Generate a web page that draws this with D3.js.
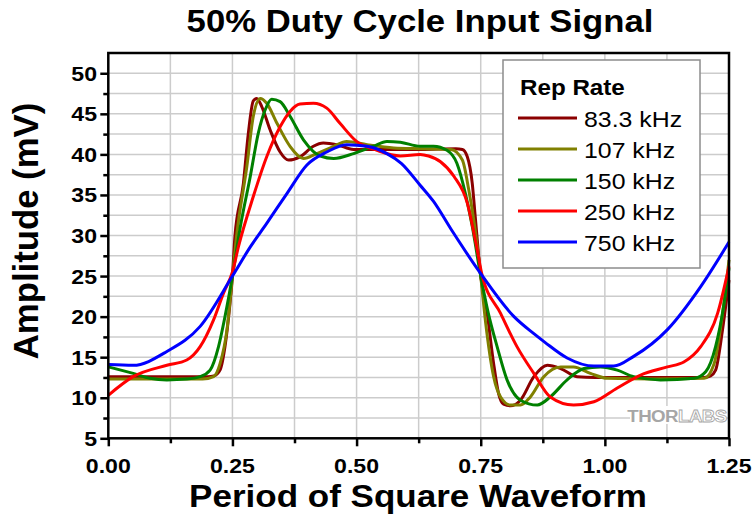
<!DOCTYPE html>
<html>
<head>
<meta charset="utf-8">
<script src="https://cdn.jsdelivr.net/npm/d3@7"></script>
<style>
  body { margin: 0; background: #fff; }
  svg text { font-family: "Liberation Sans", Arial, sans-serif; }
</style>
</head>
<body>
<svg id="chart" width="754" height="518"></svg>
<script>
// axis ticks
var xTicks = [0, 0.25, 0.5, 0.75, 1.0, 1.25];
var xMinor = [0.125, 0.375, 0.625, 0.875, 1.125];
var yTicks = [5, 10, 15, 20, 25, 30, 35, 40, 45, 50];
var yMinor = [7.5, 12.5, 17.5, 22.5, 27.5, 32.5, 37.5, 42.5, 47.5];

// series: [period, mV]
var seriesNames = ["83.3 kHz", "107 kHz", "150 kHz", "250 kHz", "750 kHz"];
var seriesColors = ["#8b0000", "#808000", "#008000", "#ff0000", "#0000ff"];

var rate83 = [[0,12.6],[0.1,12.6],[0.2,12.6],[0.213,12.7],[0.225,13.4],[0.235,16.3],[0.245,21.6],[0.25,25],
  [0.255,29.9],[0.272,36.4],[0.282,42.6],[0.292,46.6],[0.299,46.9],[0.309,45.9],[0.326,43.0],[0.346,40.3],
  [0.363,39.3],[0.386,39.7],[0.413,41.0],[0.433,41.4],[0.46,41.2],[0.494,40.6],[0.55,40.6],[0.63,40.6],
  [0.70,40.7],[0.713,40.6],[0.723,39.7],[0.733,36.4],[0.739,32.3],[0.75,25],[0.763,20.4],[0.776,14.2],
  [0.786,10.5],[0.796,9.2],[0.81,9.0],[0.83,9.7],[0.857,12.6],[0.884,14.0],[0.911,13.6],[0.944,12.6],
  [0.98,12.5],[1.1,12.5],[1.2,12.5],[1.213,12.7],[1.223,13.4],[1.237,18.4],[1.25,24.5]];

var rate107 = [[0,12.3],[0.1,12.3],[0.19,12.3],[0.212,12.6],[0.225,14.2],[0.239,18.4],[0.25,25],[0.259,30.3],
  [0.279,38.5],[0.292,44.7],[0.306,46.9],[0.319,46.3],[0.34,43.8],[0.366,41.0],[0.393,39.5],[0.42,40.1],
  [0.454,41.0],[0.48,41.6],[0.521,41.2],[0.575,40.8],[0.63,40.7],[0.69,40.6],[0.713,39.3],[0.726,35.6],
  [0.737,31.5],[0.75,25],[0.76,19.2],[0.776,12.6],[0.79,10.1],[0.81,9.1],[0.83,9.1],[0.85,10.1],
  [0.877,12.6],[0.911,13.8],[0.937,13.8],[0.971,13.0],[1.005,12.4],[1.1,12.3],[1.2,12.4],[1.22,14.2],
  [1.237,20.4],[1.25,27.0]];

var rate150 = [[0,13.8],[0.05,13.0],[0.084,12.4],[0.118,12.2],[0.158,12.3],[0.185,12.6],[0.205,13.4],
  [0.222,16.3],[0.235,20.0],[0.25,25],[0.266,31.1],[0.286,37.3],[0.302,42.6],[0.316,45.5],[0.329,46.8],
  [0.346,46.5],[0.366,44.7],[0.393,41.8],[0.427,39.8],[0.454,39.5],[0.494,40.1],[0.534,41.0],[0.561,41.6],
  [0.588,41.5],[0.628,41.0],[0.655,41.0],[0.682,40.5],[0.702,38.9],[0.719,35.2],[0.733,31.1],[0.75,25],
  [0.765,20.5],[0.783,16.3],[0.803,12.2],[0.83,9.7],[0.864,9.1],[0.89,10.1],[0.924,12.2],[0.958,13.6],
  [0.991,13.8],[1.025,13.4],[1.058,12.6],[1.112,12.2],[1.18,12.4],[1.203,13.2],[1.223,16.3],[1.24,21.6],
  [1.25,26.0]];

var rate250 = [[0,10.3],[0.05,12.6],[0.118,14.0],[0.158,14.65],[0.185,16.3],[0.212,19.6],[0.232,22.9],
  [0.25,25.5],[0.262,28.6],[0.292,34.8],[0.319,39.7],[0.346,43.4],[0.366,45.3],[0.386,46.2],[0.413,46.3],
  [0.44,45.7],[0.467,43.8],[0.50,41.6],[0.541,40.5],[0.588,39.8],[0.628,40.0],[0.645,39.8],[0.669,39.1],
  [0.696,37.3],[0.723,34.0],[0.743,28.2],[0.752,25.3],[0.79,20.4],[0.823,16.3],[0.857,13.0],[0.89,10.1],
  [0.937,9.1],[0.978,9.5],[1.025,11.2],[1.072,12.8],[1.126,13.8],[1.159,14.4],[1.193,16.3],[1.227,20.4],
  [1.25,26.2]];

var rate750 = [[0,14.1],[0.05,14.0],[0.118,15.7],[0.185,18.8],[0.25,25.0],[0.286,28.6],[0.319,31.5],
  [0.36,35.2],[0.40,38.7],[0.44,40.3],[0.48,41.2],[0.521,41.0],[0.561,40.1],[0.59,38.9],[0.628,36.2],
  [0.655,34.2],[0.69,30.8],[0.75,25.3],[0.817,20.0],[0.857,17.9],[0.88,16.8],[0.924,14.9],[0.978,13.9],
  [1.018,13.9],[1.058,15.1],[1.126,18.4],[1.193,23.7],[1.25,29.2]];

var seriesData = [rate83, rate107, rate150, rate250, rate750];

var svg = d3.select("#chart");
// plot box (window.top is read-only, so no "top" here)
var plotL = 108.3, plotR = 729, plotT = 53, plotB = 438.3;
var sx = 1.1; // text in the picture is a bit wide

var x = d3.scaleLinear().domain([0, 1.25]).range([plotL, plotR]);
var y = d3.scaleLinear().domain([5, 52.5]).range([plotB, plotT]);

function wideText(g, px, py, str, size, weight, anchor, stretch) {
  return g.append("text")
    .attr("transform", "translate(" + px + "," + py + ") scale(" + (stretch || sx) + ",1)")
    .attr("text-anchor", anchor || "middle")
    .attr("font-size", size)
    .attr("font-weight", weight || "bold")
    .text(str);
}

// grid
var grid = svg.append("g").attr("stroke", "#cccccc").attr("stroke-width", 1.5);
grid.selectAll(".vg").data(xTicks.concat(xMinor)).enter().append("line")
  .attr("x1", function (d) {return x(d);}).attr("x2", function (d) {return x(d);})
  .attr("y1", plotT).attr("y2", plotB);
grid.selectAll(".hg").data(yTicks.concat(yMinor)).enter().append("line")
  .attr("x1", plotL).attr("x2", plotR)
  .attr("y1", function (d) {return y(d);}).attr("y2", function (d) {return y(d);});

// watermark
var wm = svg.append("g");
wm.append("rect").attr("x", 630).attr("y", 406).attr("width", 94).attr("height", 18).attr("fill", "#fff");
var wt = wm.append("text")
  .attr("transform", "translate(677,422) scale(1.1,1)")
  .attr("text-anchor", "middle").attr("font-size", 17).attr("font-weight", "bold")
  .attr("letter-spacing", -0.5);
wt.append("tspan").attr("fill", "#a6a6a6").text("THOR");
wt.append("tspan").attr("fill", "#fff").attr("stroke", "#a6a6a6").attr("stroke-width", 0.8).text("LABS");

// curves
var line = d3.line()
  .x(function (d) {return x(d[0]);})
  .y(function (d) {return y(d[1]);})
  .curve(d3.curveMonotoneX);

svg.append("g").selectAll("path").data(seriesData).enter().append("path")
  .attr("d", line)
  .attr("fill", "none")
  .attr("stroke", function (d, i) {return seriesColors[i];})
  .attr("stroke-width", 3)
  .attr("stroke-linejoin", "round");

// frame
svg.append("rect").attr("x", plotL).attr("y", plotT)
  .attr("width", plotR - plotL).attr("height", plotB - plotT)
  .attr("fill", "none").attr("stroke", "#000").attr("stroke-width", 2.5);

// axes
var xAxis = svg.append("g").attr("transform", "translate(0," + plotB + ")");
xAxis.call(d3.axisBottom(x).tickValues(xTicks).tickSize(8).tickFormat(function () {return "";}));
xAxis.append("g").call(d3.axisBottom(x).tickValues(xMinor).tickSize(5).tickFormat(function () {return "";}));
var yAxis = svg.append("g").attr("transform", "translate(" + plotL + ",0)");
yAxis.call(d3.axisLeft(y).tickValues(yTicks).tickSize(8).tickFormat(function () {return "";}));
yAxis.append("g").call(d3.axisLeft(y).tickValues(yMinor).tickSize(5).tickFormat(function () {return "";}));
svg.selectAll(".domain").remove();
svg.selectAll(".tick line").attr("stroke", "#000").attr("stroke-width", 2.5);

var labels = svg.append("g").attr("fill", "#000");
xTicks.forEach(function (d) {
  wideText(labels, x(d), 473, d3.format(".2f")(d), 21);
});
yTicks.forEach(function (d) {
  wideText(labels, 97, y(d) + 7.5, String(d), 21, "bold", "end");
});

// titles
wideText(svg, 420, 32, "50% Duty Cycle Input Signal", 31, "bold", "middle", 1.12);
wideText(svg, 418, 507, "Period of Square Waveform", 31, "bold", "middle", 1.13);
svg.append("text")
  .attr("transform", "translate(38,231) rotate(-90) scale(1.12,1.15)")
  .attr("text-anchor", "middle").attr("font-size", 31).attr("font-weight", "bold")
  .text("Amplitude (mV)");

// legend
var lg = svg.append("g");
lg.append("rect").attr("x", 503).attr("y", 60).attr("width", 197).attr("height", 208)
  .attr("fill", "#fff").attr("stroke", "#8c8c8c").attr("stroke-width", 1.5);
wideText(lg, 520, 95, "Rep Rate", 22, "bold", "start");
seriesNames.forEach(function (name, i) {
  var ly = 118 + i * 31;
  lg.append("line").attr("x1", 518).attr("x2", 577).attr("y1", ly).attr("y2", ly)
    .attr("stroke", seriesColors[i]).attr("stroke-width", 3);
  wideText(lg, 584, ly + 8.5, name, 22, "normal", "start", 1.13);
});
</script>
</body>
</html>
